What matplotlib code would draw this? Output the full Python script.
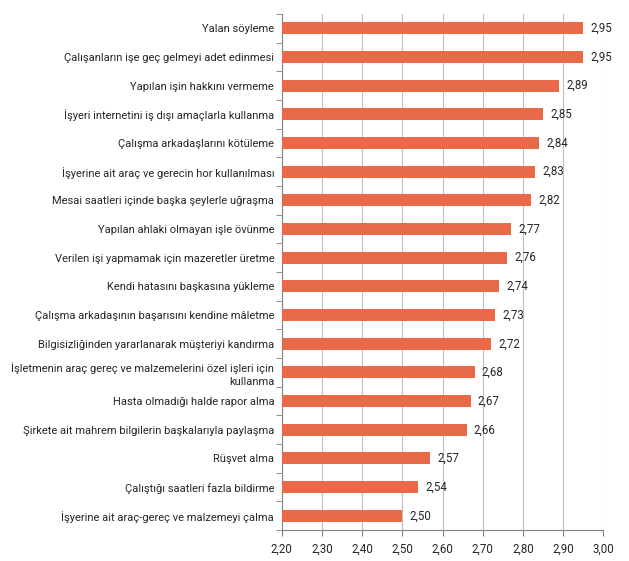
import matplotlib.pyplot as plt
import numpy as np

plt.rcParams['font.family'] = ['Roboto', 'DejaVu Sans']

categories = [
    "Yalan söyleme",
    "Çalışanların işe geç gelmeyi adet edinmesi",
    "Yapılan işin hakkını vermeme",
    "İşyeri internetini iş dışı amaçlarla kullanma",
    "Çalışma arkadaşlarını kötüleme",
    "İşyerine ait araç ve gerecin hor kullanılması",
    "Mesai saatleri içinde başka şeylerle uğraşma",
    "Yapılan ahlaki olmayan işle övünme",
    "Verilen işi yapmamak için mazeretler üretme",
    "Kendi hatasını başkasına yükleme",
    "Çalışma arkadaşının başarısını kendine mâletme",
    "Bilgisizliğinden yararlanarak müşteriyi kandırma",
    "İşletmenin araç gereç ve malzemelerini özel işleri için\nkullanma",
    "Hasta olmadığı halde rapor alma",
    "Şirkete ait mahrem bilgilerin başkalarıyla paylaşma",
    "Rüşvet alma",
    "Çalıştığı saatleri fazla bildirme",
    "İşyerine ait araç-gereç ve malzemeyi çalma",
]
values = [2.95, 2.95, 2.89, 2.85, 2.84, 2.83, 2.82, 2.77, 2.76, 2.74,
          2.73, 2.72, 2.68, 2.67, 2.66, 2.57, 2.54, 2.50]
xticks = [2.20, 2.30, 2.40, 2.50, 2.60, 2.70, 2.80, 2.90, 3.00]

bar_color = "#E96A48"
grid_color = "#BFBFBF"
text_color = "#262626"

fig = plt.figure(figsize=(6.29, 5.61), dpi=100)
ax = fig.add_axes([0.448, 0.055, 0.511, 0.92])

y = np.arange(len(categories))
ax.barh(y, values, height=0.42, left=0, color=bar_color, zorder=3)
for yi, v in zip(y, values):
    ax.text(v + 0.018, yi, f"{v:.2f}".replace(".", ","), va="center",
            ha="left", fontsize=8.3, color=text_color, zorder=4)

ax.set_xlim(2.20, 3.00)
ax.set_ylim(len(categories) - 0.5, -0.5)
ax.set_xticks(xticks)
ax.set_xticklabels([f"{t:.2f}".replace(".", ",") for t in xticks],
                   fontsize=8.3, color=text_color)
ax.set_yticks(y)
ax.set_yticklabels(categories, fontsize=8.0, color=text_color, ha="right",
                   linespacing=1.3)
ax.set_yticks(np.arange(-0.5, len(categories), 1), minor=True)
ax.tick_params(axis="y", which="major", length=0, pad=5.5)
ax.tick_params(axis="y", which="minor", length=4, color="#808080", direction="out")
ax.tick_params(axis="x", length=4, color="#808080", pad=5)

ax.grid(axis="x", color=grid_color, linewidth=0.8, zorder=0)
for side in ["top", "right"]:
    ax.spines[side].set_visible(False)
for side in ["left", "bottom"]:
    ax.spines[side].set_color("#808080")
    ax.spines[side].set_linewidth(0.8)

fig.savefig("out.png", dpi=100)
